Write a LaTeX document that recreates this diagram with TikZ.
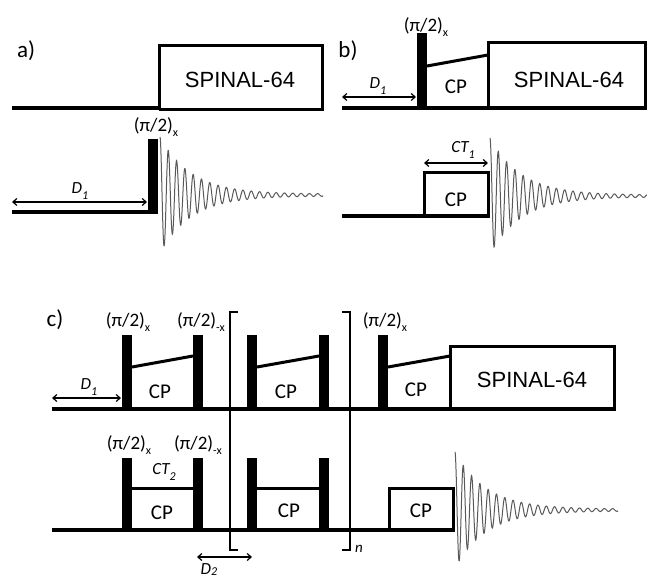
\documentclass[tikz,border=0pt]{standalone}
\usepackage{fontspec}
\setmainfont{Carlito}
\newfontfamily\arialf{Liberation Sans}
\usetikzlibrary{arrows.meta}
\newcommand\mysub[1]{\raisebox{-0.3em}{\fontsize{12pt}{12pt}\selectfont #1}}
\newcommand\mysubi[1]{\raisebox{-0.3em}{\fontsize{12pt}{12pt}\selectfont\itshape #1}}
\newcommand\mysubj[1]{\raisebox{-0.08em}{\fontsize{12pt}{12pt}\selectfont\itshape #1}}
\tikzset{
  baseln/.style={line width=4pt},
  boxln/.style={line width=3pt, line join=miter},
  ramp/.style={line width=3pt},
  pulse/.style={fill=black},
  dimarrow/.style={line width=1.2pt, {Straight Barb[length=4pt,width=7pt]}-{Straight Barb[length=4pt,width=7pt]}},
  fid/.style={line width=1pt, draw=black!65},
  brk/.style={line width=1.6pt},
  panellbl/.style={inner sep=0pt, font=\fontsize{23pt}{23pt}\selectfont},
  spin/.style={inner sep=0pt, font=\arialf\fontsize{22pt}{22pt}\selectfont},
  cplbl/.style={inner sep=0pt, font=\fontsize{21pt}{21pt}\selectfont},
  plbl/.style={inner sep=0pt, font=\fontsize{19pt}{19pt}\selectfont},
  dlbl/.style={inner sep=0pt, font=\fontsize{17pt}{17pt}\selectfont\itshape},
}
\begin{document}
\begin{tikzpicture}[x=1pt,y=-1pt]
\useasboundingbox (0,0) rectangle (647,577);
\clip (0,0) rectangle (647,577);
% ---------------- panel a ----------------
\node[panellbl] (la) at (26,51) {a)};
\draw[baseln] (12,108) -- (160,108);
\draw[boxln] (159,109.5) -- (159,46) -- (322,46) -- (322,109.5) -- (159,109.5);
\node[spin] (spa) at (240,80) {SPINAL-64};
\draw[baseln] (12,212) -- (150,212);
\fill[pulse] (148,139) rectangle (158,214);
\node[plbl] (pa) at (156,127) {(π/2)\mysub{x}};
\coordinate (d1aL) at (12,202);
\coordinate (d1aR) at (147,202);
\draw[dimarrow] (d1aL) -- (d1aR);
\node[dlbl] (d1a) at (80,191) {D\mysubi{1}};
\draw[fid] plot[domain=0:163,samples=700,variable=\t] ({160+\t},{195-(57*exp(-\t/31)+1)*cos(43.373*\t)});
% ---------------- panel b ----------------
\node[panellbl] (lb) at (348,51) {b)};
\draw[baseln] (342,108) -- (647,108);
\fill[pulse] (417,33) rectangle (427,110);
\draw[ramp] (427,66) -- (488,55);
\draw[boxln] (488,109.5) -- (488,43) -- (645,43) -- (645,109.5);
\node[spin] (spb) at (569,80) {SPINAL-64};
\node[cplbl] (cpb1) at (456,87) {CP};
\node[plbl] (pb) at (426,27) {(π/2)\mysub{x}};
\coordinate (d1bL) at (342,97);
\coordinate (d1bR) at (416,97);
\draw[dimarrow] (d1bL) -- (d1bR);
\node[dlbl] (d1b) at (378,86) {D\mysubi{1}};
\draw[baseln] (342,216) -- (489.5,216);
\draw[boxln] (424,217) -- (424,173) -- (488,173) -- (488,217);
\node[cplbl] (cpb2) at (456,200) {CP};
\coordinate (ctL) at (424,163);
\coordinate (ctR) at (488,163);
\draw[dimarrow] (ctL) -- (ctR);
\node[dlbl] (ct1) at (463,150) {CT\mysubi{1}};
\draw[fid] plot[domain=0:157,samples=700,variable=\t] ({490+\t},{196-(57*exp(-\t/31)+1)*cos(43.373*\t)});
% ---------------- panel c ----------------
\node[panellbl] (lc) at (55,320) {c)};
% top channel
\draw[baseln] (52,409) -- (614,409);
\foreach \px in {122,193,247,319,378} {
  \fill[pulse] (\px,335) rectangle (\px+10,411);
}
\draw[ramp] (132,367) -- (193,356);
\draw[ramp] (257,367) -- (319,356);
\draw[ramp] (388,367) -- (450,356);
\draw[boxln] (450,410.5) -- (450,346) -- (614,346) -- (614,410.5);
\node[spin] (spc) at (532,380) {SPINAL-64};
\node[cplbl] (cpc1) at (160,392) {CP};
\node[cplbl] (cpc2) at (286,392) {CP};
\node[cplbl] (cpc3) at (416,390) {CP};
\node[plbl] (pc1) at (128,322) {(π/2)\mysub{x}};
\node[plbl] (pc2) at (201,322) {(π/2)\mysub{-x}};
\node[plbl] (pc3) at (385,322) {(π/2)\mysub{x}};
\coordinate (d1cL) at (52,398);
\coordinate (d1cR) at (121,398);
\draw[dimarrow] (d1cL) -- (d1cR);
\node[dlbl] (d1c) at (89,387) {D\mysubi{1}};
% bottom channel
\draw[baseln] (52,530) -- (454.5,530);
\foreach \px in {122,193,247,319} {
  \fill[pulse] (\px,458) rectangle (\px+10,532);
}
\draw[ramp] (132,488) -- (193,488);
\draw[ramp] (257,488) -- (319,488);
\draw[boxln] (389,531) -- (389,488) -- (453,488) -- (453,531);
\node[cplbl] (cpc4) at (162,513) {CP};
\node[cplbl] (cpc5) at (289,511) {CP};
\node[cplbl] (cpc6) at (421,511) {CP};
\node[plbl] (pc4) at (129,445) {(π/2)\mysub{x}};
\node[plbl] (pc5) at (198,445) {(π/2)\mysub{-x}};
\node[dlbl] (ct2) at (164,472) {CT\mysubi{2}};
\coordinate (d2L) at (197,557);
\coordinate (d2R) at (252,557);
\draw[dimarrow] (d2L) -- (d2R);
\node[dlbl, anchor=base] (d2) at (209,574) {D\mysubj{2}};
% brackets
\coordinate (bl1) at (238,312);
\coordinate (bl2) at (230,312);
\coordinate (bl3) at (230,550);
\coordinate (bl4) at (238,550);
\draw[brk] (bl1) -- (bl2) -- (bl3) -- (bl4);
\coordinate (br1) at (342,312);
\coordinate (br2) at (350,312);
\coordinate (br3) at (350,550);
\coordinate (br4) at (342,550);
\draw[brk] (br1) -- (br2) -- (br3) -- (br4);
\node[dlbl, font=\fontsize{15pt}{15pt}\selectfont\itshape] (nn) at (359,549) {n};
\draw[fid] plot[domain=0:163,samples=700,variable=\t] ({455+\t},{510-(57*exp(-\t/31)+1)*cos(43.373*\t)});
\end{tikzpicture}
\end{document}
